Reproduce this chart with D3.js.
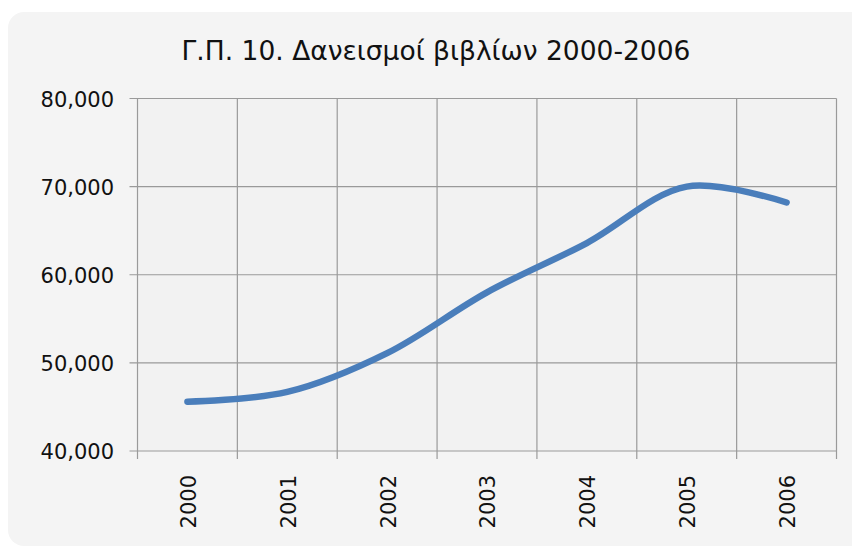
<!DOCTYPE html>
<html>
<head>
<meta charset="utf-8">
<script src="https://cdn.jsdelivr.net/npm/d3@7"></script>
<style>
  body { margin: 0; background: #fff; }
  text { font-family: "DejaVu Sans", Verdana, sans-serif; fill: #111; }
</style>
</head>
<body>
<div id="chart"></div>
<script>
// data
const years = ['2000', '2001', '2002', '2003', '2004', '2005', '2006'];
const loans = [45600, 46700, 51100, 58000, 63600, 70000, 68200];
const yTicks = [40000, 50000, 60000, 70000, 80000];
const title = 'Γ.Π. 10. Δανεισμοί βιβλίων 2000-2006';

const width = 852, height = 548;
const plot = {left: 137.5, top: 98.5, right: 836.5, bottom: 451};

const svg = d3.select('#chart').append('svg')
    .attr('width', width)
    .attr('height', height);

// chart area background (rounded box)
svg.append('rect')
    .attr('x', 8)
    .attr('y', 12)
    .attr('width', 860)
    .attr('height', 534)
    .attr('rx', 16)
    .attr('fill', '#f4f4f4');

svg.append('rect')
    .attr('x', plot.left)
    .attr('y', plot.top)
    .attr('width', plot.right - plot.left)
    .attr('height', plot.bottom - plot.top)
    .attr('fill', '#f2f2f2');

const x = d3.scaleBand()
    .domain(years)
    .range([plot.left, plot.right]);

const y = d3.scaleLinear()
    .domain([40000, 80000])
    .range([plot.bottom, plot.top]);

// horizontal grid
svg.append('g')
    .selectAll('line')
    .data(yTicks)
    .join('line')
    .attr('x1', plot.left - 8)
    .attr('x2', plot.right)
    .attr('y1', d => y(d))
    .attr('y2', d => y(d))
    .attr('stroke', '#9a9a9a')
    .attr('stroke-width', 1.2);

// vertical grid at category boundaries
const bounds = years.map(d => x(d)).concat([plot.right]);
svg.append('g')
    .selectAll('line')
    .data(bounds)
    .join('line')
    .attr('x1', d => d)
    .attr('x2', d => d)
    .attr('y1', plot.top)
    .attr('y2', plot.bottom + 8)
    .attr('stroke', '#9a9a9a')
    .attr('stroke-width', 1.2);

// y labels
svg.append('g')
    .selectAll('text')
    .data(yTicks)
    .join('text')
    .attr('x', 114)
    .attr('y', d => y(d) + 1)
    .attr('dy', '0.35em')
    .attr('text-anchor', 'end')
    .attr('font-size', 21)
    .text(d => d3.format(',')(d));

// x labels, rotated
svg.append('g')
    .selectAll('text')
    .data(years)
    .join('text')
    .attr('transform', d => `translate(${x(d) + x.bandwidth() / 2 + 1},475) rotate(-90)`)
    .attr('dy', '0.35em')
    .attr('text-anchor', 'end')
    .attr('font-size', 21)
    .text(d => d);

// smoothed line
const line = d3.line()
    .x((d, i) => x(years[i]) + x.bandwidth() / 2)
    .y(d => y(d))
    .curve(d3.curveCatmullRom.alpha(0.5));

svg.append('path')
    .datum(loans)
    .attr('d', line)
    .attr('fill', 'none')
    .attr('stroke', '#4a7ebb')
    .attr('stroke-width', 6.5)
    .attr('stroke-linecap', 'round');

svg.append('text')
    .attr('x', 436)
    .attr('y', 60)
    .attr('text-anchor', 'middle')
    .attr('font-size', 26.5)
    .text(title);
</script>
</body>
</html>
